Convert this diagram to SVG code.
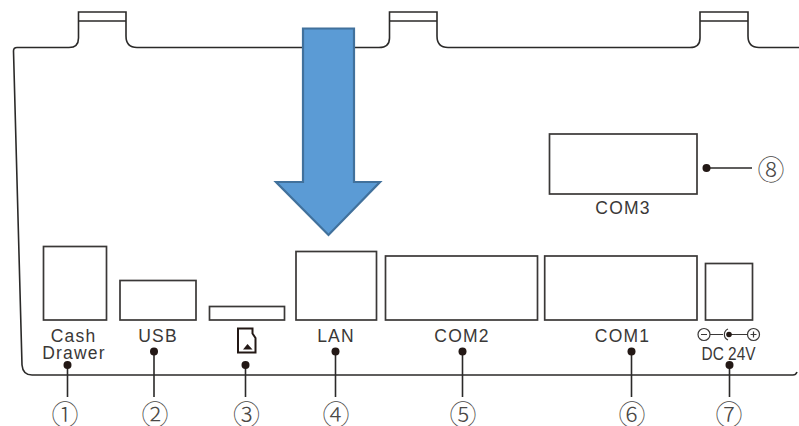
<svg xmlns="http://www.w3.org/2000/svg" width="799" height="426" viewBox="0 0 799 426">
<defs>
<style>
.l{fill:none;stroke:#2b2a29;stroke-width:1.6}
.p{fill:#fff;stroke:#3a3837;stroke-width:1.7}
.d{fill:#231815}
.s{fill:none;stroke:#3a3837;stroke-width:1.2}
.t{font-family:"Liberation Sans",Arial,sans-serif;font-size:17.5px;fill:#3a3837;text-anchor:middle;letter-spacing:1.2px}
.n{font-family:"Noto Sans CJK JP","DejaVu Sans",sans-serif;font-size:27px;font-weight:300;fill:#4a4846;text-anchor:middle}
</style>
</defs>
<rect width="799" height="426" fill="#fff"/>
<g id="enclosure">
<path class="l" d="M797 372C796 374.500 795 375 793 375H32C25 375 22.500 371 22 365L13.500 51Q13.500 47.500 17 47.500H69Q78.500 47.500 78.500 38V12H126V36Q126 47.500 137 47.500H379Q389.500 47.500 389.500 38V12H437V36Q437 47.500 448 47.500H690Q700 47.500 700 38V12H748V36Q748 47.500 759 47.500H799"/>
<path class="l" d="M78.500 21H126M389.500 21H437M700 21H748"/>
</g>
<g id="port-cash-drawer"><rect class="p" x="43.500" y="246.500" width="63" height="73.500"/><text class="t" x="73.500" y="341.500">Cash</text><text class="t" x="74" y="358.500">Drawer</text></g>
<g id="port-usb"><rect class="p" x="120" y="280.500" width="76" height="39.500"/><text class="t" x="158" y="341.500">USB</text></g>
<g id="port-sd"><rect class="p" x="209.500" y="306.500" width="75" height="13.500"/><path fill="none" stroke="#231815" stroke-width="2" d="M238 328.500H252.500V333.500L255.500 338V352.500H238Z"/><path class="d" d="M243 349.500L247.500 344L252.500 349.500Z"/></g>
<g id="port-lan"><rect class="p" x="296" y="251.500" width="80.500" height="68.500"/><text class="t" x="336" y="341.500">LAN</text></g>
<g id="port-com2"><rect class="p" x="385.500" y="256" width="152" height="64"/><text class="t" x="462" y="341.500">COM2</text></g>
<g id="port-com1"><rect class="p" x="544.700" y="256" width="152.300" height="64"/><text class="t" x="622.500" y="341.500">COM1</text></g>
<g id="port-dc"><rect class="p" x="705.500" y="263.500" width="47" height="56.500"/>
<circle class="s" cx="704" cy="334.500" r="6"/><circle class="s" cx="753.500" cy="334.500" r="6"/>
<path class="s" d="M701 334.500H707M710 334.500H723M729 334.500H747.500M750.500 334.500H756.500M753.500 331.500V337.500M728 329A6 6 0 0 0 728 340"/>
<circle class="d" cx="729" cy="334.500" r="2.800"/>
<text x="728.500" y="359.500" style="font-family:'Liberation Sans',Arial,sans-serif;font-size:17.500px;fill:#3a3837;text-anchor:middle" textLength="54" lengthAdjust="spacingAndGlyphs">DC 24V</text></g>
<g id="port-com3"><rect class="p" x="549.500" y="134" width="147.500" height="60"/><text class="t" x="623" y="213.500">COM3</text></g>
<g id="connectors">
<path class="l" d="M67.500 365V397M154 351.500V397M245.500 365V397M335.500 351.500V397M462.500 351.500V397M631.500 351.500V397M729.500 365V397M706.500 168H752"/>
<circle class="d" cx="67.500" cy="365" r="4"/><circle class="d" cx="154" cy="351.500" r="4"/><circle class="d" cx="245.500" cy="365" r="4"/><circle class="d" cx="335.500" cy="351.500" r="4"/><circle class="d" cx="462.500" cy="351.500" r="4"/><circle class="d" cx="631.500" cy="351.500" r="4"/><circle class="d" cx="729.500" cy="365" r="4"/><circle class="d" cx="706.500" cy="168" r="4"/>
</g>
<g id="labels">
<text class="n" x="65" y="425">①</text><text class="n" x="155" y="425">②</text><text class="n" x="246.500" y="425">③</text><text class="n" x="336" y="425">④</text><text class="n" x="463" y="425">⑤</text><text class="n" x="632" y="425">⑥</text><text class="n" x="729" y="425">⑦</text><text class="n" x="771" y="179.500">⑧</text>
</g>
<g id="arrow"><path d="M303 28.500H354V182H380L328.500 235L276 182H303Z" fill="#5b9bd5" stroke="#41719c" stroke-width="2.200"/></g>
</svg>
